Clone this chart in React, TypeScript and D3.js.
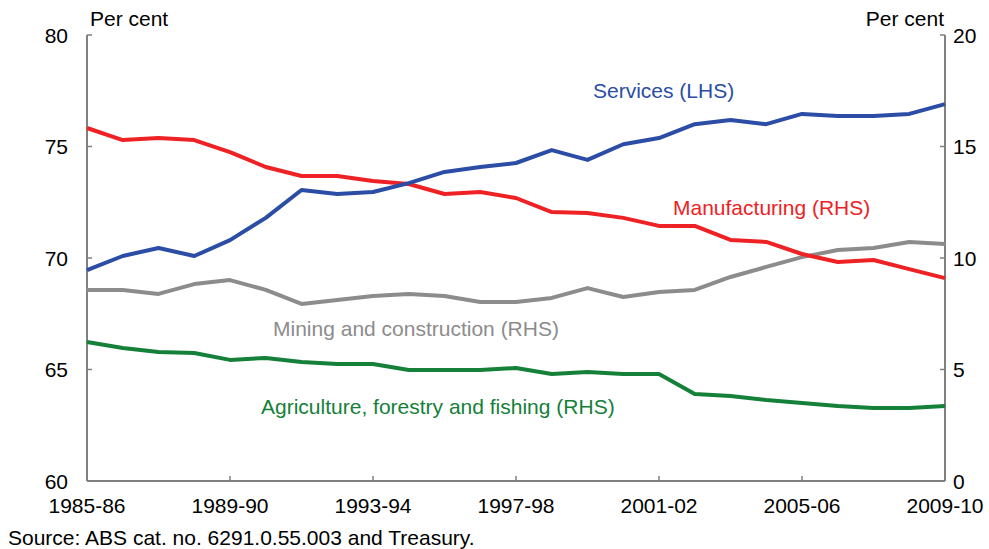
import React from "react";
import * as d3 from "d3";

const years = ["1985-86","1986-87","1987-88","1988-89","1989-90","1990-91","1991-92","1992-93","1993-94","1994-95","1995-96","1996-97","1997-98","1998-99","1999-00","2000-01","2001-02","2002-03","2003-04","2004-05","2005-06","2006-07","2007-08","2008-09","2009-10"];
const tickYears = ["1985-86","1989-90","1993-94","1997-98","2001-02","2005-06","2009-10"];

const services = [69.46,70.09,70.45,70.09,70.8,71.8,73.05,72.87,72.96,73.36,73.86,74.08,74.26,74.84,74.4,75.1,75.38,76.0,76.19,76.0,76.46,76.37,76.37,76.46,76.9];
const manufacturing = [15.83,15.29,15.38,15.29,14.75,14.08,13.68,13.68,13.45,13.32,12.87,12.96,12.69,12.06,12.02,11.8,11.44,11.44,10.81,10.72,10.18,9.82,9.91,9.5,9.1];
const mining = [8.57,8.57,8.39,8.83,9.01,8.57,7.94,8.12,8.3,8.39,8.3,8.03,8.03,8.21,8.65,8.25,8.48,8.57,9.15,9.6,10.04,10.36,10.45,10.72,10.63];
const agriculture = [6.23,5.96,5.78,5.74,5.43,5.52,5.34,5.25,5.25,4.98,4.98,4.98,5.07,4.8,4.89,4.8,4.8,3.9,3.81,3.63,3.5,3.36,3.27,3.27,3.36];

const leftTicks = [60,65,70,75,80];
const rightTicks = [0,5,10,15,20];

const W = 989, H = 549;
const M = { left: 87, right: 945, top: 35, bottom: 481 };
const FONT = "'Liberation Sans', Arial, sans-serif";
const FS = 21;

export default function App() {
  const x = d3.scalePoint<string>().domain(years).range([M.left, M.right]);
  const yL = d3.scaleLinear().domain([60, 80]).range([M.bottom, M.top]);
  const yR = d3.scaleLinear().domain([0, 20]).range([M.bottom, M.top]);
  const lineL = d3.line<number>().x((_, i) => x(years[i])!).y(d => yL(d));
  const lineR = d3.line<number>().x((_, i) => x(years[i])!).y(d => yR(d));
  const axisColor = "#808080";
  const series = [
    { data: mining, color: "#8C8C8C", gen: lineR },
    { data: agriculture, color: "#158039", gen: lineR },
    { data: manufacturing, color: "#EE2225", gen: lineR },
    { data: services, color: "#2B4DA6", gen: lineL },
  ];
  return (
    <svg width={W} height={H} style={{ position: "absolute", left: 0, top: 0, background: "#fff" }} fontFamily={FONT}>
      <rect width={W} height={H} fill="#fff" />
      <line x1={M.left} x2={M.left} y1={M.top} y2={M.bottom} stroke={axisColor} strokeWidth={2} />
      <line x1={M.right} x2={M.right} y1={M.top} y2={M.bottom} stroke={axisColor} strokeWidth={2} />
      <line x1={M.left} x2={M.right} y1={M.bottom} y2={M.bottom} stroke={axisColor} strokeWidth={2} />
      {leftTicks.map(t => (
        <g key={"l" + t}>
          <line x1={M.left} x2={M.left + 5} y1={yL(t)} y2={yL(t)} stroke={axisColor} strokeWidth={1.5} />
          <text x={68} y={yL(t)} textAnchor="end" dominantBaseline="central" fontSize={FS} fill="#000">{t}</text>
        </g>
      ))}
      {rightTicks.map(t => (
        <g key={"r" + t}>
          <line x1={M.right - 5} x2={M.right} y1={yR(t)} y2={yR(t)} stroke={axisColor} strokeWidth={1.5} />
          <text x={953} y={yR(t)} textAnchor="start" dominantBaseline="central" fontSize={FS} fill="#000">{t}</text>
        </g>
      ))}
      {tickYears.map(t => (
        <g key={"x" + t}>
          {t !== years[0] && t !== years[years.length - 1] && (
            <line x1={x(t)!} x2={x(t)!} y1={M.bottom} y2={M.bottom - 5} stroke={axisColor} strokeWidth={1.5} />
          )}
          <text x={x(t)!} y={513} textAnchor="middle" fontSize={FS} fill="#000">{t}</text>
        </g>
      ))}
      <text x={90} y={26} fontSize={FS} fill="#000">Per cent</text>
      <text x={944} y={26} textAnchor="end" fontSize={FS} fill="#000">Per cent</text>
      {series.map((s, i) => (
        <path key={i} d={s.gen(s.data)!} fill="none" stroke={s.color} strokeWidth={4} strokeLinejoin="round" />
      ))}
      <text x={593} y={98} fontSize={FS} fill="#2B4DA6">Services (LHS)</text>
      <text x={673} y={215} fontSize={FS} fill="#EE2225">Manufacturing (RHS)</text>
      <text x={273} y={336} fontSize={FS} fill="#8C8C8C">Mining and construction (RHS)</text>
      <text x={261} y={414} fontSize={FS} fill="#158039">Agriculture, forestry and fishing (RHS)</text>
      <text x={8} y={545} fontSize={FS} fill="#000">Source: ABS cat. no. 6291.0.55.003 and Treasury.</text>
    </svg>
  );
}
